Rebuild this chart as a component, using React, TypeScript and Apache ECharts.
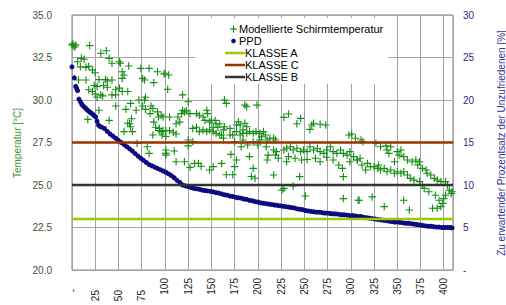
import React, { useEffect, useRef } from "react";
import * as echarts from "echarts";

// Modellierte Schirmtemperatur: [hour index, temperature °C]
const schirmTemp: [number, number][] = [
  [0, 33.24], [1, 33.3], [2, 33.18], [3, 33.12], [4, 33.24], [19, 33.2], [31, 32.75], [37, 32.9],
  [40, 32.45], [43, 32.16], [51, 32.25], [52, 32.16], [61, 32.0], [74, 31.86], [83, 31.86], [92, 31.66],
  [99, 31.53], [6, 32.25], [10, 32.45], [13, 32.4], [9, 31.95], [15, 31.92], [18, 31.98], [22, 31.76],
  [25, 31.6], [7, 31.18], [15, 31.18], [29, 31.2], [36, 31.2], [38, 31.12], [43, 31.18], [54, 31.66],
  [56, 31.47], [54, 31.27], [76, 31.27], [78, 31.18], [88, 31.02], [24, 30.85], [27, 30.8], [34, 30.85],
  [38, 30.75], [47, 30.6], [51, 30.7], [54, 30.5], [60, 30.5], [18, 30.6], [22, 30.5], [25, 30.35],
  [27, 30.16], [31, 30.3], [33, 30.24], [43, 30.3], [47, 30.3], [63, 29.8], [69, 29.4], [72, 30.0],
  [78, 30.0], [79, 30.16], [76, 29.65], [79, 29.45], [85, 29.65], [87, 29.5], [92, 29.3], [96, 29.1],
  [58, 29.45], [47, 29.65], [29, 29.4], [17, 28.86], [40, 28.8], [60, 28.63], [63, 28.43], [65, 28.14],
  [56, 28.14], [88, 28.7], [90, 28.4], [94, 28.2], [87, 27.94], [97, 27.94], [101, 28.2], [70, 27.45],
  [81, 27.25], [83, 26.86], [101, 26.86], [64, 28.9], [62, 28.6], [84, 29.2], [93, 29.0], [94, 28.33],
  [96, 28.14],
  [100, 31.57], [104, 31.47], [103, 30.63], [119, 30.3], [125, 29.9], [119, 29.4], [121, 29.3], [118, 29.2],
  [123, 29.37], [114, 29.0], [116, 28.7], [112, 28.6], [98, 29.0], [105, 29.0], [105, 28.2], [109, 28.1],
  [112, 28.0], [101, 27.85], [98, 28.2], [125, 27.65], [130, 27.55], [125, 27.3], [101, 27.06], [110, 27.0],
  [101, 26.76], [112, 26.37], [121, 26.37], [127, 26.04], [132, 26.27], [136, 26.27], [139, 26.1], [148, 25.88],
  [152, 26.08], [161, 26.27], [171, 26.8], [175, 26.08], [177, 26.47], [191, 26.67], [195, 25.98], [193, 25.5],
  [197, 25.4], [166, 25.6], [173, 25.6], [127, 29.2], [134, 29.2], [137, 29.1], [141, 29.0], [145, 29.4],
  [146, 29.2], [143, 28.8], [148, 28.7], [150, 28.8], [154, 28.8], [155, 28.6], [152, 28.4], [157, 28.4],
  [159, 28.6], [134, 28.4], [130, 28.33], [137, 28.14], [141, 28.24], [145, 28.14], [148, 28.24], [152, 28.14],
  [155, 28.04], [159, 27.94], [163, 28.24], [164, 28.43], [170, 28.33], [173, 27.94], [177, 28.14], [181, 27.94],
  [184, 28.04], [188, 28.04], [191, 28.14], [195, 28.04], [198, 28.14], [202, 28.04], [202, 27.65], [200, 27.35],
  [182, 27.25], [184, 27.65], [179, 28.72], [177, 28.53], [181, 28.53], [186, 28.63], [188, 28.43], [184, 28.24],
  [164, 30.0], [166, 29.8], [186, 29.7], [188, 29.6], [161, 27.94], [170, 27.94], [163, 27.75], [175, 27.55],
  [189, 27.35], [195, 27.55], [199, 29.7],
  [228, 28.98], [233, 29.18], [246, 28.92], [242, 28.6], [258, 28.53], [260, 28.63], [256, 28.27], [267, 28.57],
  [273, 28.53], [206, 28.14], [208, 27.94], [204, 27.84], [213, 27.75], [217, 27.75], [219, 27.65], [210, 27.65],
  [209, 27.25], [217, 27.06], [220, 26.96], [219, 26.76], [211, 26.76], [210, 26.47], [222, 26.57], [228, 27.06],
  [231, 27.16], [235, 27.25], [238, 27.06], [242, 27.16], [246, 26.96], [249, 27.06], [253, 26.96], [256, 27.25],
  [260, 27.06], [264, 27.16], [267, 26.96], [271, 26.86], [274, 27.06], [278, 27.25], [281, 26.96], [285, 26.86],
  [289, 27.06], [292, 26.86], [296, 26.76], [299, 26.96], [303, 26.67], [307, 26.47], [310, 26.57], [233, 26.67],
  [240, 26.57], [247, 26.47], [253, 26.5], [262, 26.57], [267, 26.37], [274, 26.63], [281, 26.47], [287, 26.18],
  [291, 25.98], [299, 26.37], [231, 26.37], [217, 25.59], [245, 25.49], [292, 25.49], [228, 24.8], [226, 24.7],
  [238, 24.94], [251, 24.35], [292, 24.2], [308, 24.1], [298, 27.94], [301, 28.0], [305, 27.75],
  [311, 27.65], [313, 27.55], [327, 27.45], [332, 27.25], [338, 27.3], [343, 27.25], [339, 27.06], [341, 26.86],
  [350, 26.96], [352, 26.76], [354, 27.06], [357, 26.67], [361, 26.47], [366, 26.37], [370, 26.47], [374, 26.37],
  [372, 26.18], [377, 25.98], [381, 25.88], [382, 25.69], [386, 25.59], [390, 25.39], [393, 25.29], [397, 25.2],
  [402, 25.2], [404, 25.0], [406, 24.7], [409, 24.6], [408, 24.5], [307, 26.47], [312, 26.18], [318, 26.27],
  [321, 26.08], [316, 25.88], [325, 26.08], [329, 25.98], [332, 25.88], [336, 25.98], [330, 26.18], [339, 25.78],
  [343, 25.88], [347, 25.69], [350, 25.78], [354, 25.69], [357, 25.78], [361, 25.59], [364, 25.39], [368, 25.29],
  [374, 25.2], [377, 25.0], [379, 24.8], [384, 24.6], [391, 24.4], [395, 24.1], [399, 23.92], [397, 23.73],
  [393, 23.63], [388, 23.63], [400, 24.2], [402, 24.4], [309, 24.1], [323, 24.3], [336, 23.73], [357, 24.1],
  [363, 23.53], [347, 26.37],
];

// PPD: hour index and value [%]
const ppdIndex = [
  0, 2.5, 4, 5, 6, 7.5, 9, 10.5, 12, 13.5, 15, 16.5, 18, 19.5, 21, 22.5, 24, 25.5, 27, 28.5, 30, 32,
  35, 38, 41, 44, 47, 50, 53, 56, 59, 62, 65, 68, 71, 74, 77, 80, 83, 86, 89, 92, 95, 98, 101, 104, 107,
  110, 113, 116, 119, 122, 125, 128, 131, 134, 137, 140, 143, 146, 149, 152, 155, 158, 161, 164, 167, 170,
  173, 176, 179, 182, 185, 188, 191, 194, 197, 200, 203, 206, 209, 212, 215, 218, 221, 224, 227, 230, 233,
  236, 239, 242, 245, 248, 251, 254, 257, 260, 263, 266, 269, 272, 275, 278, 281, 284, 287, 290, 293, 296,
  299, 302, 305, 308, 311, 314, 317, 320, 323, 326, 329, 332, 335, 338, 341, 344, 347, 350, 353, 356, 359,
  362, 365, 368, 371, 374, 377, 380, 383, 386, 389, 392, 395, 398, 401, 404, 407, 409,
];
const ppdValues = [
  23.9, 22.6, 21.6, 21.35, 21.1, 20.1, 19.8, 19.5, 19.3, 19.15, 19.0, 18.8, 18.7, 18.55, 18.45, 18.3, 18.15,
  18.0, 17.5, 17.05, 16.9, 16.8,
  16.65, 16.3, 16.0, 15.75, 15.5, 15.25, 15.0, 14.75, 14.5, 14.25, 14.0, 13.7, 13.4, 13.15, 12.9, 12.65, 12.4,
  12.25, 12.1, 11.95, 11.8, 11.65, 11.5, 11.3, 11.1, 10.85, 10.55, 10.3, 10.0, 9.9, 9.8, 9.7, 9.6, 9.55, 9.5,
  9.4, 9.35, 9.3, 9.25, 9.2, 9.1, 9.05, 8.95, 8.85, 8.8, 8.7, 8.65, 8.55, 8.5, 8.45, 8.35, 8.3, 8.2, 8.15,
  8.05, 8.0, 7.9, 7.85, 7.8, 7.75, 7.7, 7.65, 7.6, 7.55, 7.5, 7.45, 7.4, 7.35, 7.3, 7.2, 7.15, 7.1, 7.0, 6.95,
  6.9, 6.85, 6.8, 6.8, 6.75, 6.7, 6.7, 6.65, 6.6, 6.6, 6.55, 6.5, 6.5, 6.45, 6.4, 6.4, 6.35, 6.3, 6.3, 6.2,
  6.15, 6.1, 6.05, 6.0, 5.95, 5.9, 5.85, 5.8, 5.75, 5.7, 5.65, 5.65, 5.6, 5.55, 5.5, 5.5, 5.45, 5.4, 5.35,
  5.3, 5.25, 5.2, 5.15, 5.15, 5.1, 5.05, 5.05, 5.0, 5.0, 5.0, 5.0, 4.95,
];

// Comfort class limits (PPD %)
const klasseNames = ["KLASSE A", "KLASSE C", "KLASSE B"];
const klasseValues = [6, 15, 10];
const klasseColors = ["#99cc00", "#993300", "#333333"];

const xMax = 410;
const FONT = "Liberation Sans, Arial, sans-serif";
const GREEN = "#168f16";
const NAVY = "#0c0c80";

export default function App() {
  const ref = useRef<HTMLDivElement>(null);
  useEffect(() => {
    if (!ref.current) return;
    const chart = echarts.init(ref.current, undefined, { renderer: "svg" });
    const plus = "path://M4.25,0h1.5v4.25h4.25v1.5h-4.25v4.25h-1.5v-4.25h-4.25v-1.5h4.25z";
    const legendRowsY = [29, 41, 53, 65, 77];
    const graphic: any[] = [
      { type: "rect", z: 50, shape: { x: 195, y: 18, width: 193, height: 66 }, style: { fill: "#ffffff" } },
      { type: "line", z: 51, shape: { x1: 230, y1: legendRowsY[0], x2: 237, y2: legendRowsY[0] }, style: { stroke: GREEN, lineWidth: 1.2 } },
      { type: "line", z: 51, shape: { x1: 233.5, y1: legendRowsY[0] - 3.5, x2: 233.5, y2: legendRowsY[0] + 3.5 }, style: { stroke: GREEN, lineWidth: 1.2 } },
      { type: "text", z: 51, x: 239, y: legendRowsY[0], style: { text: "Modellierte Schirmtemperatur", font: `11px ${FONT}`, fill: "#000", verticalAlign: "middle" } },
      { type: "circle", z: 51, shape: { cx: 233.5, cy: legendRowsY[1], r: 2.3 }, style: { fill: NAVY } },
      { type: "text", z: 51, x: 239, y: legendRowsY[1], style: { text: "PPD", font: `11px ${FONT}`, fill: "#000", verticalAlign: "middle" } },
      {
        type: "text", z: 5, x: 17, y: 143, rotation: Math.PI / 2,
        style: { text: "Temperatur [°C]", font: `10px ${FONT}`, fill: "#339933", align: "center", verticalAlign: "middle" },
      },
      {
        type: "text", z: 5, x: 501, y: 143, rotation: Math.PI / 2,
        style: { text: "Zu erwartender Prozentsatz der Unzufriedenen [%]", font: `10px ${FONT}`, fill: "#333399", align: "center", verticalAlign: "middle" },
      },
    ];
    klasseNames.forEach((name, k) => {
      const y = legendRowsY[2 + k];
      graphic.push({ type: "line", z: 51, shape: { x1: 225, y1: y, x2: 245, y2: y }, style: { stroke: klasseColors[k], lineWidth: 2.5 } });
      graphic.push({ type: "text", z: 51, x: 245, y, style: { text: name, font: `11px ${FONT}`, fill: "#000", verticalAlign: "middle" } });
    });

    chart.setOption({
      animation: false,
      backgroundColor: "#ffffff",
      textStyle: { fontFamily: FONT },
      grid: {
        left: 72, top: 15, width: 381, height: 255,
        show: true, borderColor: "#808080", borderWidth: 1, backgroundColor: "#ffffff",
        outerBoundsMode: "none",
      },
      xAxis: {
        type: "value", min: 0, max: xMax, interval: 25,
        axisLine: { show: false }, axisTick: { show: false },
        splitLine: { show: true, lineStyle: { color: "#a3a3a3", width: 1 } },
        axisLabel: {
          rotate: 90, margin: 8, color: "#222", fontSize: 10, fontFamily: FONT,
          showMaxLabel: false,
          formatter: (v: number) => {
            if (v % 25 !== 0) return "";
            if (v === 0) return "{d|-}";
            if (v < 100) return `{s|${v}}`;
            return `{n|${v}}`;
          },
          rich: {
            d: { padding: [0, 11, 0, 0], fontSize: 10, fontFamily: FONT, color: "#222" },
            s: { padding: [0, 12, 0, 0], fontSize: 10, fontFamily: FONT, color: "#222" },
            n: { fontSize: 10, fontFamily: FONT, color: "#222" },
          },
        },
      },
      yAxis: [
        {
          type: "value", min: 20, max: 35, interval: 2.5,
          axisLine: { show: false }, axisTick: { show: false },
          splitLine: { show: true, lineStyle: { color: "#a6a6a6", width: 1 } },
          axisLabel: { margin: 20, color: "#35553a", fontSize: 10, fontFamily: FONT, formatter: (v: number) => v.toFixed(1) },
        },
        {
          type: "value", min: 0, max: 30, interval: 5, position: "right",
          axisLine: { show: false }, axisTick: { show: false }, splitLine: { show: false },
          axisLabel: { margin: 10, color: "#2b2b80", fontSize: 10, fontFamily: FONT, formatter: (v: number) => (v === 0 ? "-" : String(v)) },
        },
      ],
      series: [
        {
          name: "Modellierte Schirmtemperatur", type: "scatter", yAxisIndex: 0, z: 3,
          symbol: plus, symbolSize: 7.5, silent: true,
          itemStyle: { color: GREEN, opacity: 1 },
          data: schirmTemp,
        },
        {
          name: "PPD", type: "scatter", yAxisIndex: 1, z: 4,
          symbol: "circle", symbolSize: 5, silent: true,
          itemStyle: { color: NAVY, opacity: 1 },
          data: ppdIndex.map((x, k) => [x, ppdValues[k]]),
        },
        ...klasseNames.map((name, k) => ({
          name, type: "line", yAxisIndex: 1, z: 5, symbol: "none", silent: true,
          lineStyle: { color: klasseColors[k], width: 2.5 },
          data: [[0, klasseValues[k]], [xMax, klasseValues[k]]],
        })),
      ],
      graphic,
    });
    return () => chart.dispose();
  }, []);
  return <div ref={ref} style={{ position: "absolute", left: 0, top: 0, width: 506, height: 305 }} />;
}
